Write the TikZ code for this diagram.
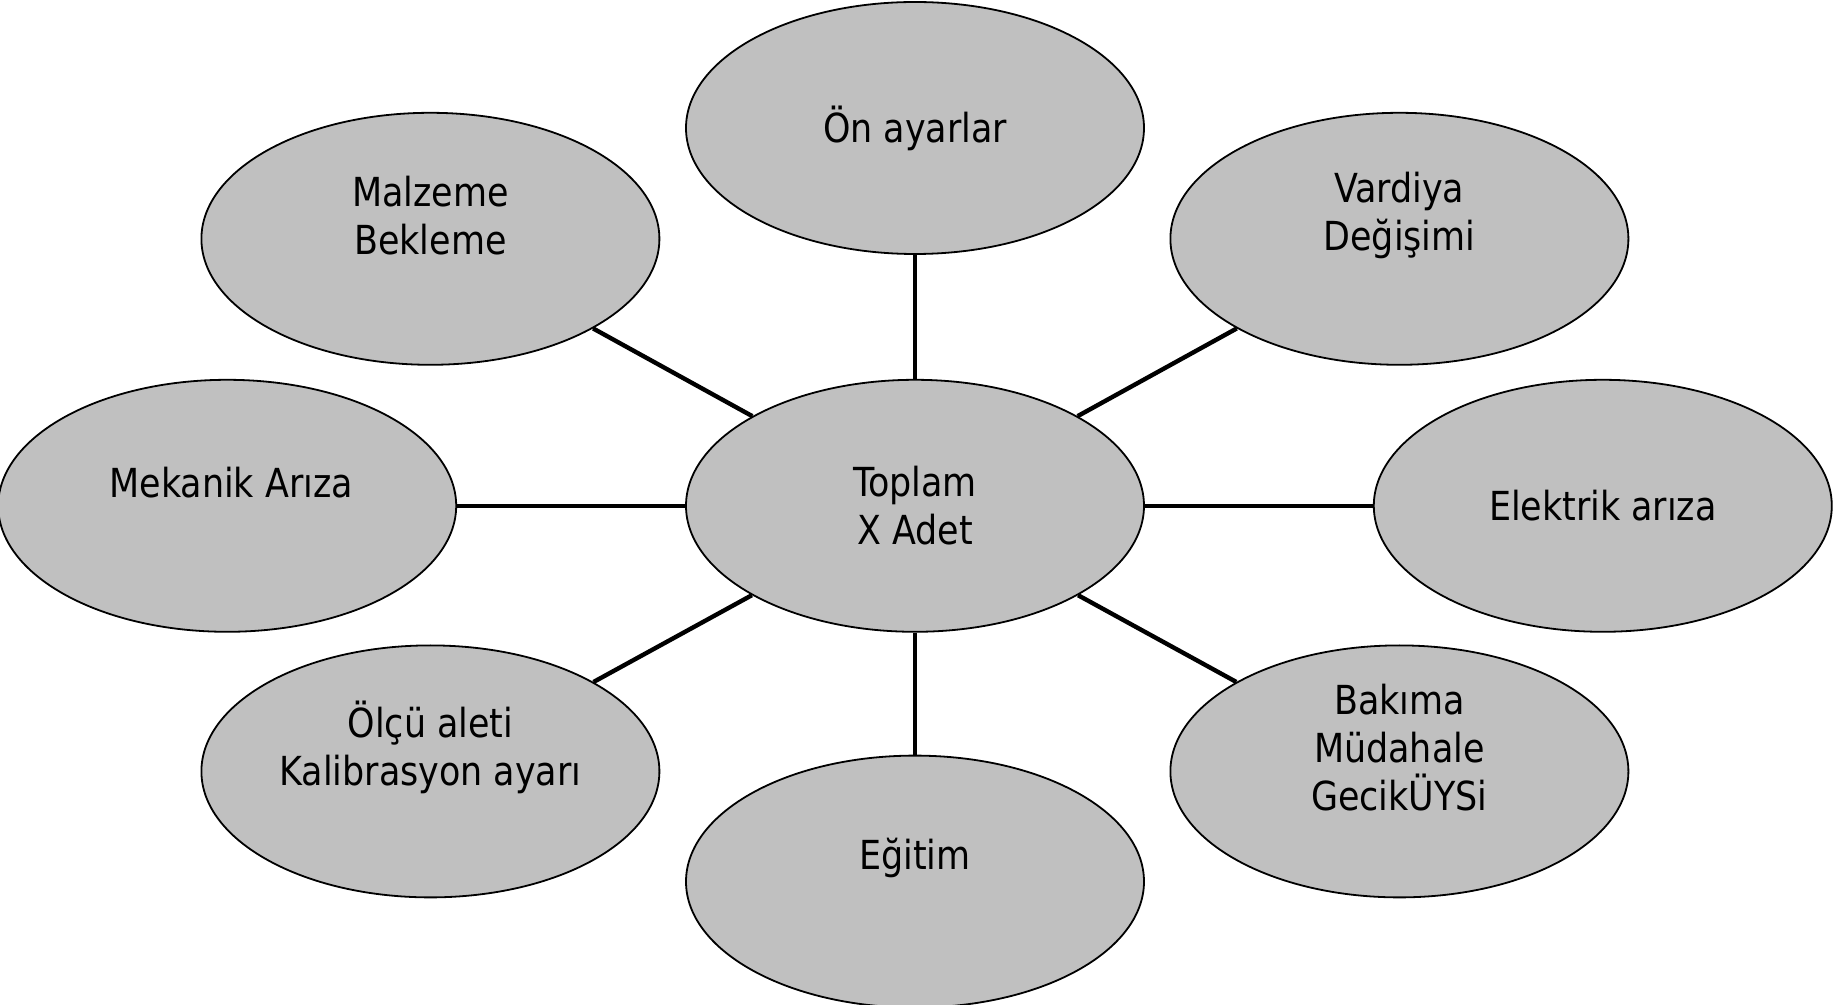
\documentclass[tikz,border=0pt]{standalone}
\usepackage{fontspec}
\setmainfont{DejaVu Sans Condensed}[FakeStretch=0.97]
\usetikzlibrary{positioning, shapes.geometric, calc}
\definecolor{bubblegray}{RGB}{192,192,192}
\tikzset{
  bubble/.style={ellipse, draw=black, line width=0.9pt, fill=bubblegray,
    minimum width=229pt, minimum height=126pt, inner sep=0pt, align=center,
    font=\fontsize{20}{24}\selectfont},
  lifted/.style={yshift=11.8pt, align=center, inner sep=0pt,
    font=\fontsize{20}{24}\selectfont},
  spoke/.style={line width=2.2pt, black}
}
\begin{document}
\begin{tikzpicture}

    \useasboundingbox (0,0) rectangle (922pt,-502.5pt);

    % center
    \node[bubble] (toplam) at (457.5pt,-252.9pt) {Toplam\\X Adet};

    % ----------

    \node[bubble, above=62pt of toplam] (ona) {Ön ayarlar};
    \node[bubble, below=61pt of toplam, label={[lifted]center:Eğitim}] (egitim) {};
    \node[bubble, left=114pt of toplam, label={[lifted, xshift=2pt]center:Mekanik Arıza}] (mekanik) {};
    \node[bubble, right=114pt of toplam] (elektrik) {Elektrik arıza};

    % ----------

    \node[bubble, label={[lifted]center:Malzeme\\Bekleme}] (malzeme)
      at ($(toplam)+(-242.3pt,133.5pt)$) {};
    \node[bubble, label={[lifted]center:Vardiya\\Değişimi}] (vardiya)
      at ($(toplam)+(242.2pt,133.5pt)$) {};
    \node[bubble, label={[lifted]center:Ölçü aleti\\Kalibrasyon ayarı}] (olcu)
      at ($(toplam)+(-242.3pt,-132.8pt)$) {};
    \node[bubble, label={[lifted]center:Bakıma\\Müdahale\\GecikÜYSi}] (bakim)
      at ($(toplam)+(242.2pt,-132.8pt)$) {};

    % -------

    \foreach \n in {ona, vardiya, elektrik, bakim, egitim, olcu, mekanik, malzeme}
      \draw[spoke] (toplam) -- (\n);

\end{tikzpicture}
\end{document}
